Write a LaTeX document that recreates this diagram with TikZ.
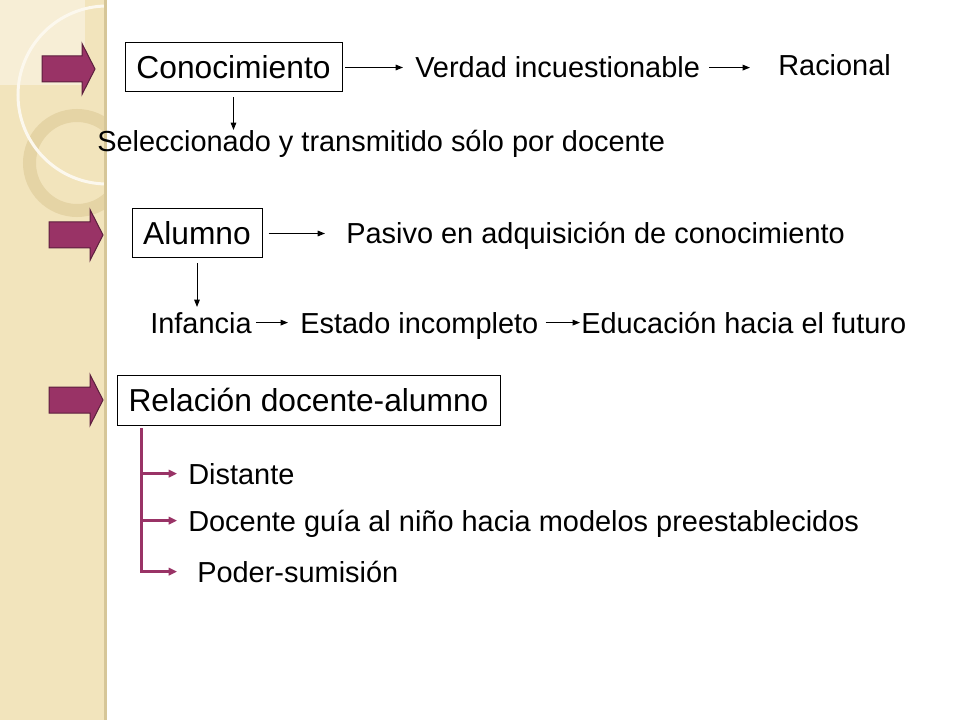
\documentclass[tikz,border=0pt]{standalone}
\usepackage{fontspec}
\setmainfont{Liberation Sans}
\usetikzlibrary{arrows.meta}
\definecolor{fondo}{RGB}{242,228,188}
\definecolor{fondoclaro}{RGB}{247,238,214}
\definecolor{anillo}{RGB}{226,208,160}
\definecolor{borde}{RGB}{214,198,152}
\definecolor{morado}{RGB}{153,51,102}
\tikzset{
	caja/.style={draw, line width=0.75pt, inner sep=0pt, font=\fontsize{23.8}{28}\selectfont},
	texto/.style={anchor=base west, inner sep=0pt, text height=15.6pt, text depth=0pt,
		font=\fontsize{21.7}{26}\selectfont},
	flecha/.style={line width=0.75pt, -{Triangle[length=5.5pt,width=4.2pt]}},
	rama/.style={draw=morado, line width=2.25pt, -{Triangle[length=6.2pt,width=5.6pt]}},
	Morada/.style={fill=morado, draw=morado!60!black, line width=0.75pt}
}
\begin{document}
\begin{tikzpicture}[x=0.75pt,y=0.75pt,yscale=-1,xscale=1]
\useasboundingbox (0,0) rectangle (960,720);
\fill[white] (0,0) rectangle (960,720);
% franja lateral
\fill[fondo] (0,0) rectangle (105,720);
\fill[fondoclaro] (0,0) rectangle (85,85);
\begin{scope}
\clip (0,0) rectangle (106,720);
\draw[anillo, line width=9.75pt, opacity=0.8] (77,163) circle (47.5);
\draw[white!75!fondo, line width=2.25pt] (107,95) circle (89);
\end{scope}
\draw[borde, line width=2.25pt] (105,0) -- (105,720);

\foreach \x/\y/\c in {42/69/40, 49/235/41, 49/400/41}
	\draw[Morada] (\x,\y-13) -- ++(\c,0) -- ++(0,-12.5) -- (\x+\c+13,\y) -- (\x+\c,\y+25.5) -- ++(0,-12.5) -- (\x,\y+13) -- cycle;

\node[caja, minimum width=162.75pt, minimum height=36.75pt] (conoc) at (233.5,67.5) {Conocimiento};
\node[texto] (verdad) at (415,78) {Verdad incuestionable};
\node[texto] (racional) at (778,76) {Racional};
\node[texto] (selecc) at (97,152) {Seleccionado y transmitido sólo por docente};

\node[caja, minimum width=97.5pt, minimum height=36.75pt] (alumno) at (197,233.5) {Alumno};
\node[texto] (pasivo) at (346,244) {Pasivo en adquisición de conocimiento};
\node[texto] (infancia) at (150,333) {Infancia};
\node[texto] (estado) at (300,333) {Estado incompleto};
\node[texto] (educ) at (581,333) {Educación hacia el futuro};

\node[caja, minimum width=287.25pt, minimum height=37.5pt] (relacion) at (308.5,400) {Relación docente-alumno};
\node[texto] (distante) at (188,484) {Distante};
\node[texto] (guia) at (188,531) {Docente guía al niño hacia modelos preestablecidos};
\node[texto] (poder) at (197,582) {Poder-sumisión};
\coordinate (tronco) at (141,428);

\draw[flecha, shorten <=2pt, shorten >=9pt] (conoc.east) -- (conoc.east -| verdad.west);
\draw[flecha, shorten <=6.75pt, shorten >=21pt] (verdad.east) -- (verdad.east -| racional.west);
\draw[flecha, shorten <=3.75pt, shorten >=0.75pt] (conoc.south) -- (conoc.south |- selecc.north);

\draw[flecha, shorten <=4.5pt, shorten >=15.75pt] (alumno.east) -- (alumno.east -| pasivo.west);
\draw[flecha, shorten <=3.75pt, shorten >=3.75pt] (alumno.south) -- (alumno.south |- infancia.north);
\draw[flecha, shorten <=3pt, shorten >=9pt] (infancia.east) -- (infancia.east -| estado.west);
\draw[flecha, shorten <=5.25pt, shorten >=0.75pt] (estado.east) -- (estado.east -| educ.west);

\draw[rama, shorten >=15pt] (tronco) |- (poder.west);
\draw[rama, shorten >=8.25pt] (tronco |- distante.west) -- (distante.west);
\draw[rama, shorten >=8.25pt] (tronco |- guia.west) -- (guia.west);
\end{tikzpicture}
\end{document}
